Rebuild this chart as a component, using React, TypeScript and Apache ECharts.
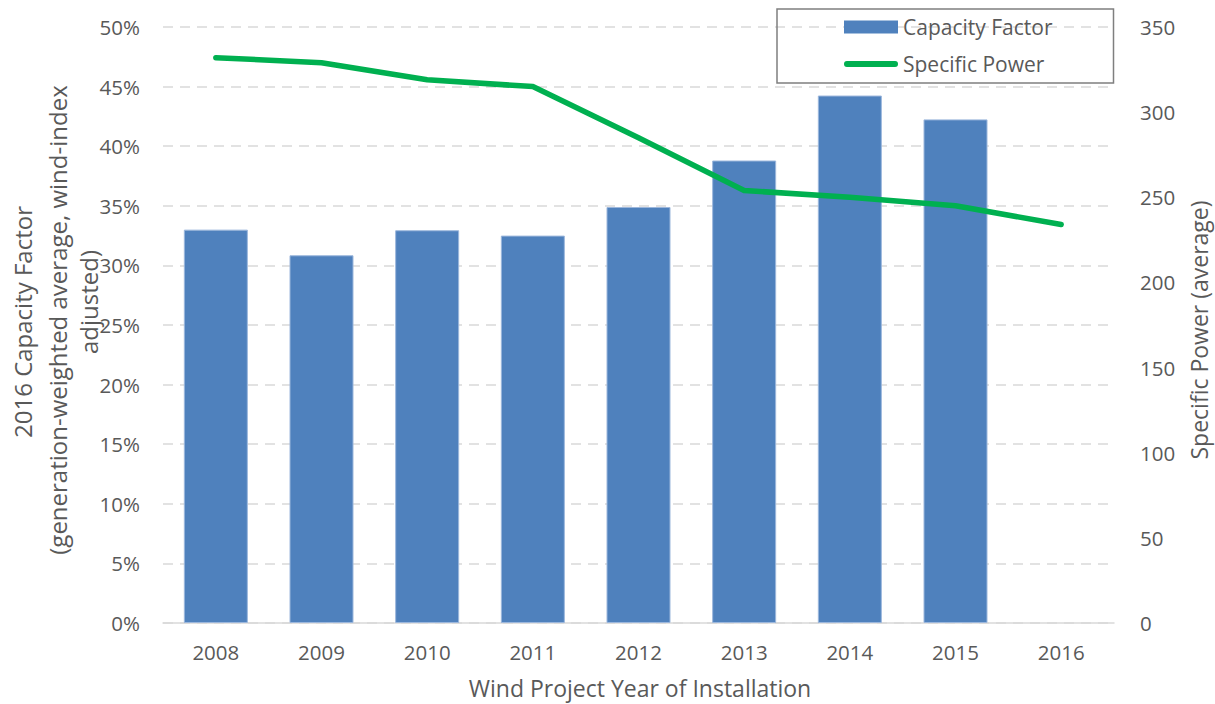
import React, { useEffect, useRef } from "react";
import * as echarts from "echarts";

const years = ["2008", "2009", "2010", "2011", "2012", "2013", "2014", "2015", "2016"];
const capacityFactor: (number | null)[] = [0.330, 0.3085, 0.3295, 0.325, 0.349, 0.388, 0.4425, 0.4225, null];
const specificPower = [332, 329, 319, 315, 285, 254, 250, 245, 234];
const leftTitleLines = ["2016 Capacity Factor", "(generation-weighted average, wind-index", "adjusted)"];
const rightTitle = "Specific Power (average)";
const xTitle = "Wind Project Year of Installation";

const FONT = "'Open Sans', sans-serif";
const TXT = "#595959";
const LINE_ICON = "path://M3,0 L53,0 A3,3 0 0 1 53,6 L3,6 A3,3 0 0 1 3,0 Z";

export default function App() {
  const ref = useRef<HTMLDivElement>(null);
  useEffect(() => {
    if (!ref.current) return;
    const chart = echarts.init(ref.current, null, { renderer: "svg" });
    const titleStyle = { fill: TXT, font: `24px ${FONT}`, align: "center", verticalAlign: "middle" };
    chart.setOption({
      animation: false,
      textStyle: { fontFamily: FONT },
      grid: { left: 163, right: 101, top: 27, bottom: 81, containLabel: false },
      legend: {
        orient: "vertical",
        left: 777,
        top: 9,
        padding: [6, 61, 7, 67],
        itemGap: 13,
        itemWidth: 54,
        itemHeight: 13,
        symbolKeepAspect: true,
        borderColor: "#7f7f7f",
        borderWidth: 1.5,
        textStyle: { color: TXT, fontSize: 21, fontFamily: FONT, lineHeight: 24 },
        data: [
          { name: "Capacity Factor", icon: "rect", itemStyle: { color: "#4F81BD", borderWidth: 0 } },
          { name: "Specific Power", icon: LINE_ICON, itemStyle: { color: "#00B050", borderWidth: 0 } },
        ],
      },
      xAxis: {
        type: "category",
        data: years,
        axisLine: { lineStyle: { color: "#d9d9d9", width: 1.5 } },
        axisTick: { show: false },
        axisLabel: { color: TXT, fontSize: 20.5, margin: 18, fontFamily: FONT },
      },
      yAxis: [
        {
          type: "value",
          min: 0,
          max: 0.5,
          interval: 0.05,
          axisLine: { show: false },
          axisTick: { show: false },
          axisLabel: {
            color: TXT,
            fontSize: 20.5,
            margin: 23,
            fontFamily: FONT,
            formatter: (v: number) => `${Math.round(v * 100)}%`,
          },
          splitLine: { lineStyle: { color: "#d9d9d9", width: 1.5, type: [10, 7] } },
        },
        {
          type: "value",
          min: 0,
          max: 350,
          interval: 50,
          axisLine: { show: false },
          axisTick: { show: false },
          axisLabel: { color: TXT, fontSize: 20.5, margin: 26, fontFamily: FONT },
          splitLine: { show: false },
        },
      ],
      series: [
        {
          name: "Capacity Factor",
          type: "bar",
          data: capacityFactor,
          yAxisIndex: 0,
          barWidth: 64,
          itemStyle: { color: "#4F81BD", borderColor: "#9cb7dc", borderWidth: 1 },
        },
        {
          name: "Specific Power",
          type: "line",
          data: specificPower,
          yAxisIndex: 1,
          symbol: "none",
          showSymbol: false,
          lineStyle: { color: "#00B050", width: 5.5, cap: "round", join: "round" },
          itemStyle: { color: "#00B050" },
        },
      ],
      graphic: [
        { type: "text", x: 22, y: 322, rotation: Math.PI / 2, style: { ...titleStyle, text: leftTitleLines[0] } },
        { type: "text", x: 57, y: 320, rotation: Math.PI / 2, style: { ...titleStyle, text: leftTitleLines[1] } },
        { type: "text", x: 88, y: 302, rotation: Math.PI / 2, style: { ...titleStyle, text: leftTitleLines[2] } },
        { type: "text", x: 1199, y: 330, rotation: Math.PI / 2, style: { ...titleStyle, font: `23px ${FONT}`, text: rightTitle } },
        { type: "text", x: 640, y: 688, style: { ...titleStyle, font: `23px ${FONT}`, text: xTitle } },
      ],
    });
    return () => chart.dispose();
  }, []);
  return <div ref={ref} style={{ width: 1215, height: 704, position: "absolute", left: 0, top: 0 }} />;
}
